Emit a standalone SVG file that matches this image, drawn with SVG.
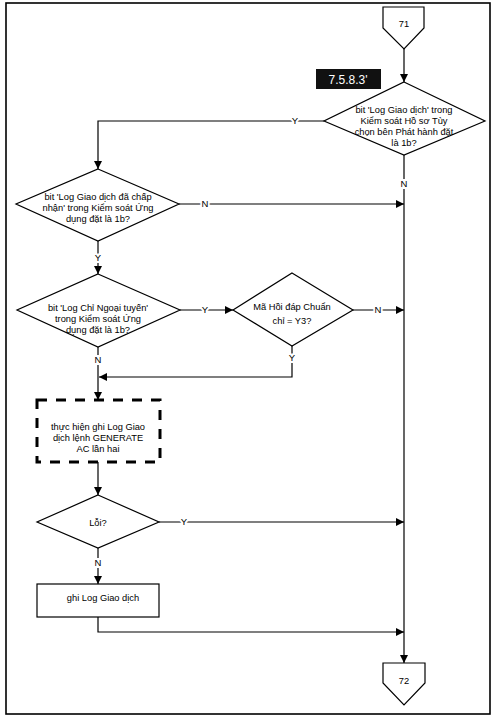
<svg xmlns="http://www.w3.org/2000/svg" width="500" height="718" viewBox="0 0 500 718">
<style>
.s{fill:#fff;stroke:#000;stroke-width:1.2}
.t{font-family:"Liberation Sans",Arial,sans-serif;font-size:9.3px;fill:#000;text-anchor:middle}
.l{font-family:"Liberation Sans",Arial,sans-serif;font-size:9.5px;fill:#000;text-anchor:middle;stroke:#fff;stroke-width:4;paint-order:stroke}
.c{fill:none;stroke:#000;stroke-width:1.2}
</style>
<defs>
<marker id="a" viewBox="0 0 10 10" refX="10" refY="5" markerWidth="8" markerHeight="8" markerUnits="userSpaceOnUse" orient="auto">
<path d="M0,0 L10,5 L0,10 z" fill="#000"/>
</marker>
</defs>
<rect x="0" y="0" width="500" height="718" fill="#fff"/>
<rect x="6" y="3" width="484" height="711" fill="none" stroke="#000" stroke-width="1.6"/>

<g id="connectors">
<path class="c" d="M404,49 V82" marker-end="url(#a)"/>
<path class="c" d="M404,155 V663" marker-end="url(#a)"/>
<path class="c" d="M324,121 H98 V169" marker-end="url(#a)"/>
<path class="c" d="M179,204 H404" marker-end="url(#a)"/>
<path class="c" d="M98,241 V274" marker-end="url(#a)"/>
<path class="c" d="M180,310 H233" marker-end="url(#a)"/>
<path class="c" d="M353,310 H404" marker-end="url(#a)"/>
<path class="c" d="M292,346 V377 H99" marker-end="url(#a)"/>
<path class="c" d="M98,347 V400" marker-end="url(#a)"/>
<path class="c" d="M98,462 V495" marker-end="url(#a)"/>
<path class="c" d="M159,522 H404" marker-end="url(#a)"/>
<path class="c" d="M98,548 V584" marker-end="url(#a)"/>
<path class="c" d="M98,617 V632 H404" marker-end="url(#a)"/>
<text class="l" x="404" y="187">N</text>
<text class="l" x="295" y="124">Y</text>
<text class="l" x="205" y="207">N</text>
<text class="l" x="98" y="261">Y</text>
<text class="l" x="205" y="313">Y</text>
<text class="l" x="378" y="313">N</text>
<text class="l" x="292" y="361">Y</text>
<text class="l" x="98" y="363">N</text>
<text class="l" x="184" y="525">Y</text>
<text class="l" x="98" y="566">N</text>
</g>

<g id="c71">
<path class="s" d="M383,7 H424 V28 L404,49 L383,28 Z"/>
<text class="t" x="404" y="27">71</text>
</g>

<g id="ref">
<rect x="316" y="69" width="65" height="20" fill="#111"/>
<text x="348" y="83.5" font-family="Liberation Sans,Arial,sans-serif" font-size="12" fill="#fff" text-anchor="middle">7.5.8.3'</text>
</g>

<g id="d1">
<path class="s" d="M404,82 L485,121 L404,155 L324,121 Z"/>
<text class="t" x="404" y="113">bit 'Log Giao dịch' trong</text>
<text class="t" x="404" y="124">Kiểm soát Hồ sơ Tùy</text>
<text class="t" x="404" y="135">chọn bên Phát hành đặt</text>
<text class="t" x="404" y="146">là 1b?</text>
</g>

<g id="d2">
<path class="s" d="M98,169 L179,204 L98,241 L16,204 Z"/>
<text class="t" x="98" y="200">bit 'Log Giao dịch đã chấp</text>
<text class="t" x="98" y="211">nhận' trong Kiểm soát Ứng</text>
<text class="t" x="98" y="222">dụng đặt là 1b?</text>
</g>

<g id="d3">
<path class="s" d="M98,274 L180,310 L98,347 L17,310 Z"/>
<text class="t" x="98" y="311">bit 'Log Chỉ Ngoại tuyến'</text>
<text class="t" x="98" y="322">trong Kiểm soát Ứng</text>
<text class="t" x="98" y="333">dụng đặt là 1b?</text>
</g>

<g id="d4">
<path class="s" d="M292,273 L353,310 L292,346 L233,310 Z"/>
<text class="t" x="292" y="310">Mã Hồi đáp Chuẩn</text>
<text class="t" x="292" y="324">chỉ = Y3?</text>
</g>

<g id="p1">
<rect x="37" y="400" width="123" height="62" fill="#fff" stroke="#000" stroke-width="3" stroke-dasharray="10,9"/>
<text class="t" x="98" y="430">thực hiện ghi Log Giao</text>
<text class="t" x="98" y="441">dịch lệnh GENERATE</text>
<text class="t" x="98" y="452">AC lần hai</text>
</g>

<g id="d5">
<path class="s" d="M98,495 L159,522 L98,548 L37,522 Z"/>
<text class="t" x="98" y="526">Lỗi?</text>
</g>

<g id="p2">
<rect class="s" x="37" y="584" width="122" height="33"/>
<text class="t" x="103" y="601">ghi Log Giao dịch</text>
</g>

<g id="c72">
<path class="s" d="M383,663 H425 V683 L404,705 L383,683 Z"/>
<text class="t" x="404" y="684">72</text>
</g>
</svg>
